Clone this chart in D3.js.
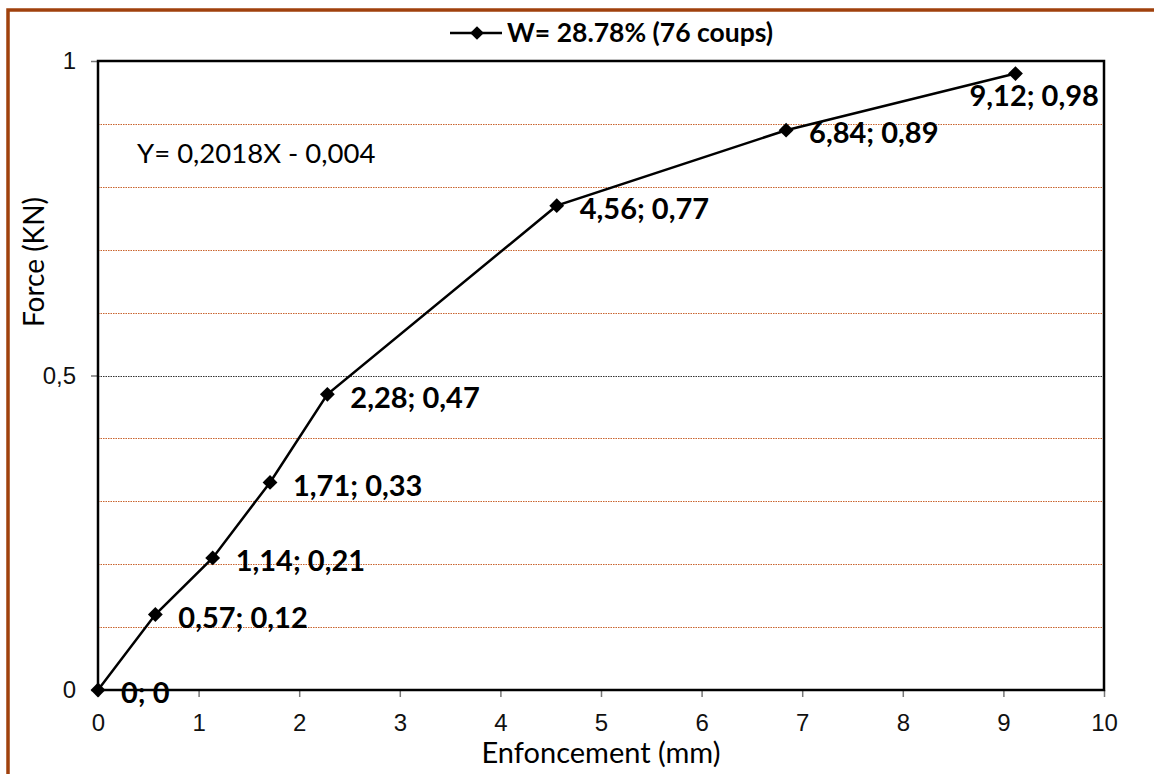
<!DOCTYPE html>
<html><head><meta charset="utf-8">
<script src="https://cdn.jsdelivr.net/npm/d3@7"></script>
<style>
html,body{margin:0;padding:0;background:#fff;}
svg{display:block;}
</style></head>
<body>
<svg id="chart" width="1154" height="774"></svg>
<script>
const xValues = [0, 0.57, 1.14, 1.71, 2.28, 4.56, 6.84, 9.12];
const yValues = [0, 0.12, 0.21, 0.33, 0.47, 0.77, 0.89, 0.98];
const pointLabels = ["0; 0", "0,57; 0,12", "1,14; 0,21", "1,71; 0,33", "2,28; 0,47", "4,56; 0,77", "6,84; 0,89", "9,12; 0,98"];
const xTicks = [0, 1, 2, 3, 4, 5, 6, 7, 8, 9, 10];
const yTicks = [0, 0.5, 1];
const yTickLabels = ["0", "0,5", "1"];
const gridValues = [0.1, 0.2, 0.3, 0.4, 0.5, 0.6, 0.7, 0.8, 0.9];
const seriesName = "W= 28.78% (76 coups)";
const equation = "Y= 0,2018X - 0,004";
const xTitle = "Enfoncement (mm)";
const yTitle = "Force (KN)";

const svg = d3.select("#chart");
const W = 1154, H = 774;
const x = d3.scaleLinear().domain([0, 10]).range([98, 1104]);
const y = d3.scaleLinear().domain([0, 1]).range([690, 61]);
const labelFont = "Lato, 'Open Sans', sans-serif";
const tickFont = "'Liberation Sans', Arial, sans-serif";

// outer brown frame (left & top)
svg.append("path").attr("d", `M8,${H} V10 H${W}`)
  .attr("fill", "none").attr("stroke", "#A0410D").attr("stroke-width", 3.5);

// gridlines
svg.append("g").selectAll("line").data(gridValues).join("line")
  .attr("x1", x(0)).attr("x2", x(10))
  .attr("y1", d => Math.round(y(d)) + 0.5).attr("y2", d => Math.round(y(d)) + 0.5)
  .attr("stroke", d => Math.abs(d - 0.5) < 1e-9 ? "#333" : "#C9642E")
  .attr("stroke-width", 1)
  .attr("stroke-dasharray", "1.5,1");

// x axis ticks & labels
const xAxis = d3.axisBottom(x).tickValues(xTicks).tickSize(7).tickFormat(d3.format("d"));
const gx = svg.append("g").attr("transform", `translate(0,${y(0)})`).call(xAxis);
gx.select(".domain").remove();
gx.selectAll(".tick line").attr("stroke", "#777").attr("stroke-width", 1.5);
gx.selectAll(".tick text").attr("font-family", tickFont).attr("font-size", 24)
  .attr("fill", "#111").attr("y", 24);

// y axis ticks & labels
const yAxis = d3.axisLeft(y).tickValues(yTicks).tickSize(7)
  .tickFormat((d, i) => yTickLabels[i]);
const gy = svg.append("g").attr("transform", `translate(${x(0)},0)`).call(yAxis);
gy.select(".domain").remove();
gy.selectAll(".tick line").attr("stroke", "#777").attr("stroke-width", 1.5);
gy.selectAll(".tick text").attr("font-family", tickFont).attr("font-size", 24)
  .attr("fill", "#111").attr("x", -22);

// plot frame
svg.append("rect").attr("x", x(0)).attr("y", y(1))
  .attr("width", x(10) - x(0)).attr("height", y(0) - y(1))
  .attr("fill", "none").attr("stroke", "#000").attr("stroke-width", 2.5);

// series line
const pts = xValues.map((v, i) => [v, yValues[i]]);
svg.append("path").datum(pts)
  .attr("d", d3.line().x(d => x(d[0])).y(d => y(d[1])))
  .attr("fill", "none").attr("stroke", "#000").attr("stroke-width", 2.5);

// markers
const diamond = d3.symbol().type(d3.symbolDiamond2).size(140);
svg.append("g").selectAll("path").data(pts).join("path")
  .attr("d", diamond)
  .attr("transform", d => `translate(${x(d[0])},${y(d[1])})`)
  .attr("fill", "#000");

// data labels
svg.append("g").selectAll("text").data(pts).join("text")
  .attr("x", (d, i) => i === pts.length - 1 ? x(d[0]) - 46 : x(d[0]) + 23)
  .attr("y", (d, i) => i === pts.length - 1 ? y(d[1]) + 22 : y(d[1]) + 3)
  .attr("dy", "0.35em")
  .attr("font-family", labelFont).attr("font-weight", "bold").attr("font-size", 29)
  .attr("fill", "#000")
  .text((d, i) => pointLabels[i]);

// equation
svg.append("text").attr("x", 137).attr("y", 153).attr("dy", "0.35em")
  .attr("font-family", labelFont).attr("font-size", 27.5).attr("fill", "#000")
  .text(equation);

// legend
const lg = svg.append("g");
lg.append("line").attr("x1", 450).attr("x2", 502).attr("y1", 33).attr("y2", 33)
  .attr("stroke", "#000").attr("stroke-width", 2.5);
lg.append("path").attr("d", d3.symbol().type(d3.symbolDiamond2).size(120))
  .attr("transform", "translate(477,33)").attr("fill", "#000");
lg.append("text").attr("x", 507).attr("y", 33).attr("dy", "0.35em")
  .attr("font-family", labelFont).attr("font-weight", "bold").attr("font-size", 26.5)
  .attr("fill", "#000").text(seriesName);

// axis titles
svg.append("text").attr("x", (x(0) + x(10)) / 2).attr("y", 753).attr("dy", "0.35em")
  .attr("text-anchor", "middle").attr("font-family", labelFont).attr("font-size", 29)
  .attr("fill", "#000").text(xTitle);
svg.append("text").attr("transform", "translate(34,262) rotate(-90)").attr("dy", "0.35em")
  .attr("text-anchor", "middle").attr("font-family", labelFont).attr("font-size", 28)
  .attr("fill", "#000").text(yTitle);
</script>
</body></html>
